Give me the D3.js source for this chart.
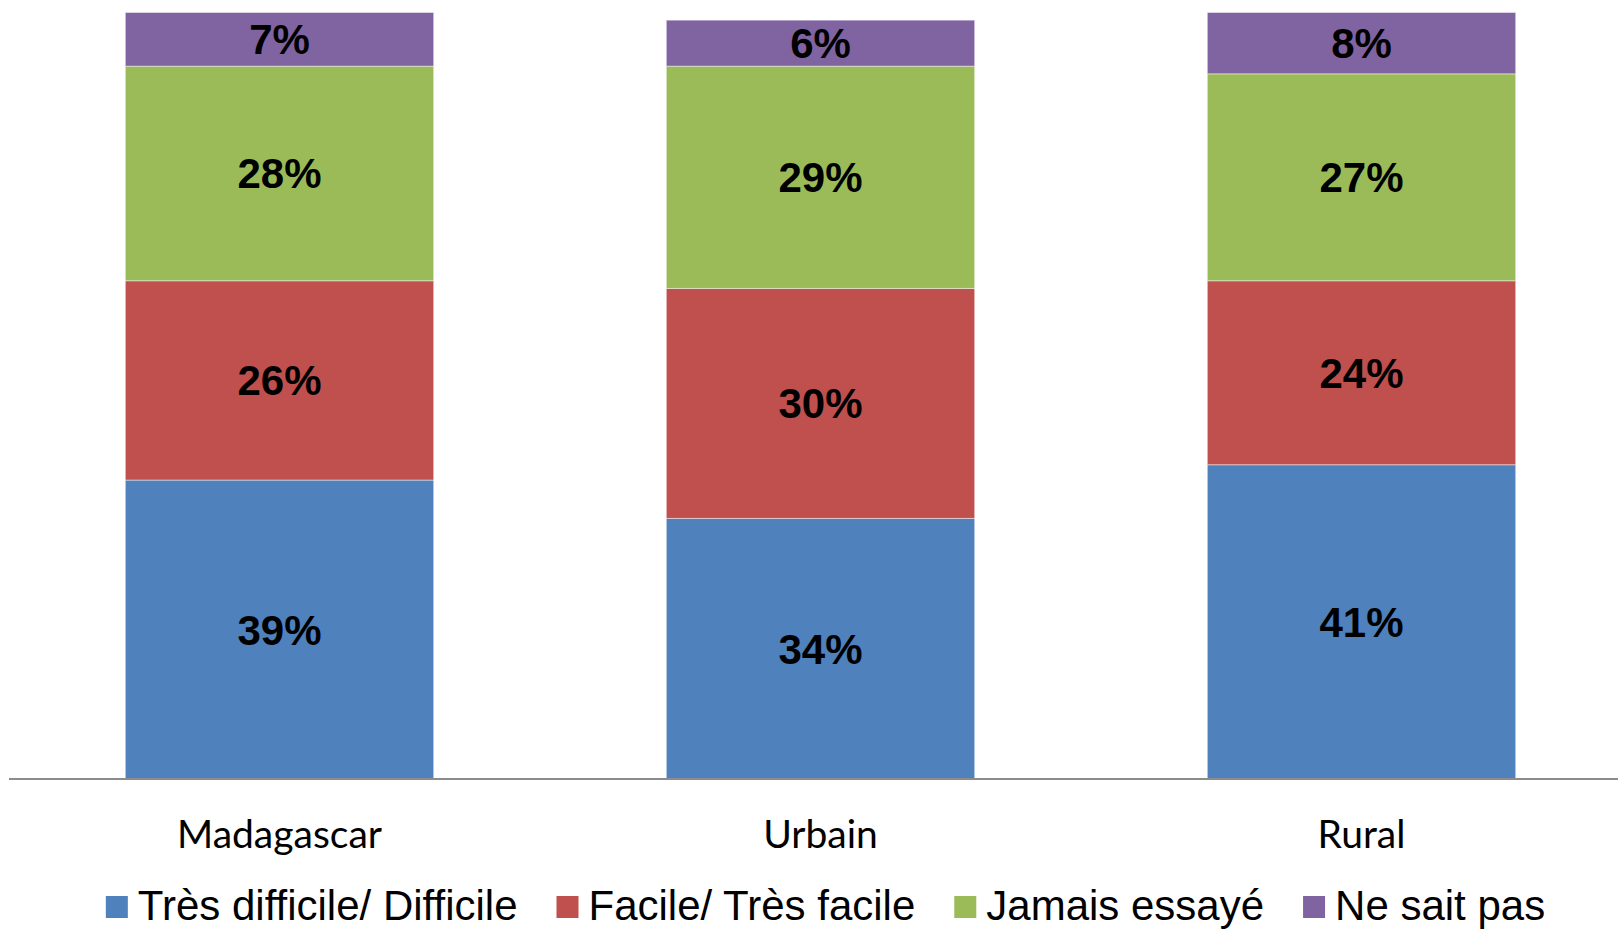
<!DOCTYPE html>
<html>
<head>
<meta charset="utf-8">
<script src="https://cdn.jsdelivr.net/npm/d3@7"></script>
<style>
  body { margin: 0; background: #fff; }
  svg { display: block; }
</style>
</head>
<body>
<svg id="chart" width="1618" height="929"></svg>
<script>
var categories = ["Madagascar", "Urbain", "Rural"];
var seriesNames = ["Très difficile/ Difficile", "Facile/ Très facile", "Jamais essayé", "Ne sait pas"];
var seriesColors = ["#4F81BD", "#C0504D", "#9BBB59", "#8064A2"];
// values in percent, one array per series, same order as categories
var tresDifficile = [39, 34, 41];
var facile = [26, 30, 24];
var jamaisEssaye = [28, 29, 27];
var neSaitPas = [7, 6, 8];

var seriesValues = [tresDifficile, facile, jamaisEssaye, neSaitPas];

var svg = d3.select("#chart");

var rows = categories.map(function(c, i) {
	var row = { cat: c };
	seriesNames.forEach(function(s, j) { row[s] = seriesValues[j][i]; });
	return row;
});

var stack = d3.stack().keys(seriesNames);
var layers = stack(rows);

var x = d3.scaleBand()
	.domain(categories)
	.range([9, 1632])
	.paddingInner(0.43)
	.paddingOuter(0.215);

var y = d3.scaleLinear()
	.domain([0, 100])
	.range([779, 12.5]);

var color = d3.scaleOrdinal().domain(seriesNames).range(seriesColors);

// bars
var groups = svg.selectAll(".layer")
	.data(layers)
	.enter().append("g")
	.attr("class", "layer")
	.attr("fill", function(d) { return color(d.key); });

groups.selectAll("rect")
	.data(function(d) { return d; })
	.enter().append("rect")
	.attr("x", function(d) { return x(d.data.cat); })
	.attr("y", function(d) { return y(d[1]); })
	.attr("width", x.bandwidth())
	.attr("height", function(d) { return y(d[0]) - y(d[1]); })
	.attr("stroke", "#ffffff")
	.attr("stroke-opacity", 0.45)
	.attr("stroke-width", 1);

// value labels
groups.selectAll("text")
	.data(function(d) { return d; })
	.enter().append("text")
	.attr("x", function(d) { return x(d.data.cat) + x.bandwidth() / 2; })
	.attr("y", function(d) { return (y(d[0]) + y(d[1])) / 2 + 15; })
	.attr("text-anchor", "middle")
	.attr("font-family", "'Liberation Sans', Arial, sans-serif")
	.attr("font-weight", "bold")
	.attr("font-size", 42)
	.attr("fill", "#000")
	.text(function(d) { return (d[1] - d[0]) + "%"; });

// x axis
var xAxis = d3.axisBottom(x).tickSize(0).tickPadding(0);
var axisG = svg.append("g")
	.attr("transform", "translate(0," + 779 + ")")
	.call(xAxis);
axisG.select(".domain").remove();
axisG.append("line")
	.attr("x1", 9).attr("x2", 1618)
	.attr("y1", 0).attr("y2", 0)
	.attr("stroke", "#8c8c8c")
	.attr("stroke-width", 2);
axisG.selectAll(".tick text")
	.attr("y", 69)
	.attr("dy", null)
	.attr("font-family", "Lato, 'Open Sans', sans-serif")
	.attr("font-size", 39)
	.attr("fill", "#000");

// legend
var legend = svg.append("g").attr("class", "legend");
var items = legend.selectAll("g")
	.data(seriesNames)
	.enter().append("g");
items.append("rect")
	.attr("width", 22).attr("height", 22)
	.attr("y", 896)
	.attr("fill", function(d) { return color(d); });
items.append("text")
	.attr("x", 32)
	.attr("y", 920)
	.attr("font-family", "'Liberation Sans', Arial, sans-serif")
	.attr("font-size", 42)
	.attr("fill", "#000")
	.text(function(d) { return d; });

var offsets = [];
var pos = 0;
items.each(function(d, i) {
	var w = this.querySelector("text").getComputedTextLength();
	offsets.push(pos);
	pos += 32 + w + 39;
});
var total = pos - 39;
var startX = 825.5 - total / 2;
items.attr("transform", function(d, i) { return "translate(" + (startX + offsets[i]) + ",0)"; });
</script>
</body>
</html>
